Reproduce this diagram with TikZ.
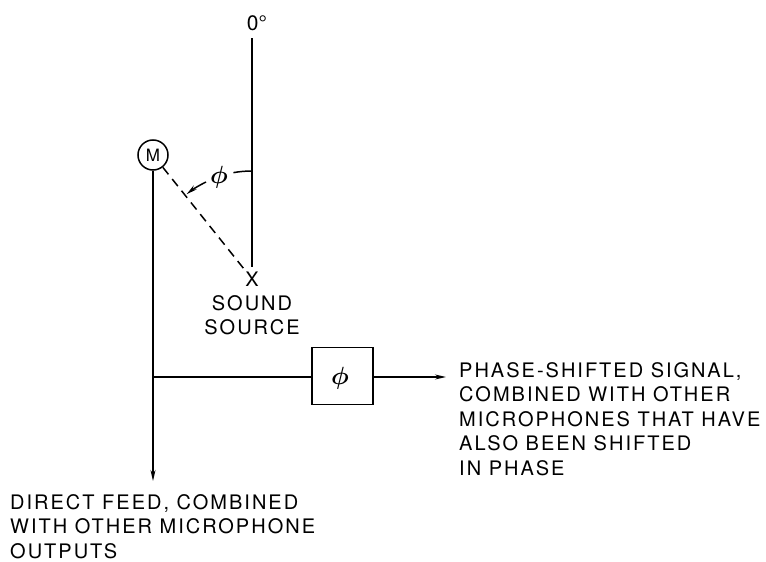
\documentclass[tikz,border=0pt]{standalone}
\usepackage{fontspec}
\setmainfont{TeX Gyre Heros}[LetterSpace=10]
\usetikzlibrary{arrows.meta}
\begin{document}
\begin{tikzpicture}[x=1pt,y=-1pt,
  ln/.style={line width=1.5pt},
  tip/.style={-{Stealth[length=11pt,width=5pt]}},
  lbl/.style={inner sep=0pt,font=\fontsize{20}{25}\selectfont},
  txt/.style={inner sep=0pt,align=left,font=\fontsize{20}{24.5}\selectfont},
  phisym/.style={inner sep=0pt,font=\fontsize{28}{28}\selectfont\boldmath}]
\useasboundingbox (0,0) rectangle (766,562);
% reference line and source
\node[lbl,anchor=base,font=\fontsize{21}{25}\selectfont\addfontfeatures{LetterSpace=0}] (zero) at (257,30) {0°};
\coordinate (top) at (252,38);
\node[lbl,anchor=center,font=\fontsize{20}{20}\selectfont\addfontfeatures{LetterSpace=0}] (src) at (252,279) {X};
\draw[ln] (top) -- (252,267);
% microphone
\node[draw,circle,ln,minimum size=30pt,inner sep=0pt,font=\fontsize{17}{17}\selectfont\addfontfeatures{LetterSpace=0}] (mic) at (153,155) {M};
\draw[ln,dashed,dash pattern=on 9pt off 6pt] (mic) -- (src);
% angle arc
\node[phisym] (phi) at (219,177) {$\phi$};
\draw[ln] (252,171) arc[start angle=-90,end angle=-100,radius=107];
\draw[ln,tip] (206,182) arc[start angle=-116,end angle=-128.3,radius=107];
\node[txt,align=center,anchor=north] (ss) at (252,295) {SOUND\\SOURCE};
% signal paths
\coordinate (jn) at (153,377);
\coordinate (down) at (153,481);
\draw[ln,tip] (mic) -- (down);
\node[draw,ln,minimum width=61pt,minimum height=57pt,inner sep=0pt] (box) at (342.5,376) {};
\node[phisym] (bphi) at (340,378) {$\phi$};
\draw[ln] (jn) -- (jn -| box.west);
\coordinate (out) at (446,377);
\draw[ln,tip] (box.east |- out) -- (out);
\node[txt,anchor=north west] (rt) at (459,362) {PHASE-SHIFTED SIGNAL,\\COMBINED WITH OTHER\\MICROPHONES THAT HAVE\\ALSO BEEN SHIFTED\\IN PHASE};
\node[txt,anchor=north west] (lt) at (10,494) {DIRECT FEED, COMBINED\\WITH OTHER MICROPHONE\\OUTPUTS};
\end{tikzpicture}
\end{document}
